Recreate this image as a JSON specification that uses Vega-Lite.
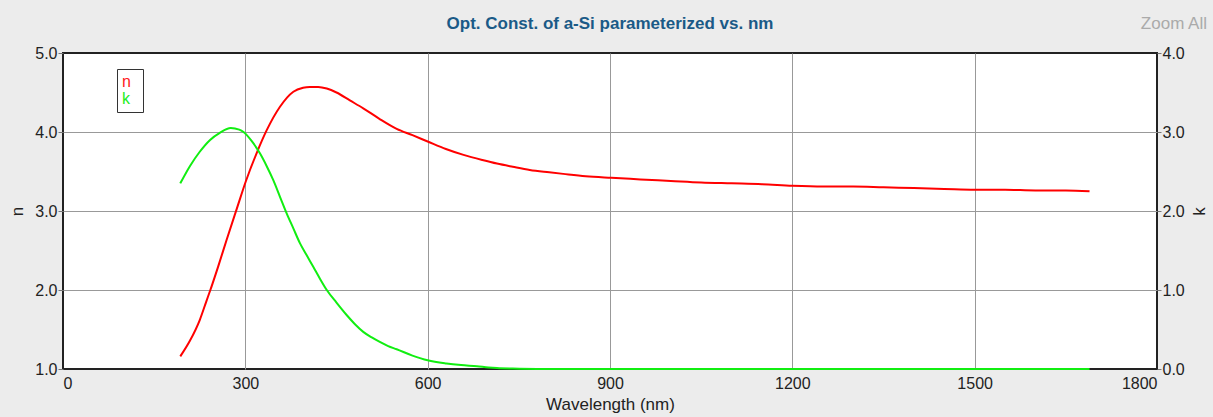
{
  "$schema": "https://vega.github.io/schema/vega-lite/v6.json",
  "width": 1094,
  "height": 316,
  "autosize": {"type": "none"},
  "padding": {"left": 63, "top": 53, "right": 56, "bottom": 48},
  "background": "#ECECEC",
  "title": {"text": "Opt. Const. of a-Si parameterized vs. nm", "font": "Liberation Sans", "fontSize": 17, "fontWeight": "bold", "color": "#1A5A87", "anchor": "middle", "frame": "group", "offset": 0, "baseline": "alphabetic", "dy": 31},
  "config": {
    "view": {"fill": "white", "stroke": "#222222", "strokeWidth": 2},
    "axis": {"labelFont": "Liberation Sans", "titleFont": "Liberation Sans", "labelFontSize": 16, "titleFontSize": 17, "titleFontWeight": "normal", "labelColor": "#222222", "titleColor": "#222222", "gridOpacity": 1, "gridWidth": 1, "tickColor": "#777777", "domain": false}
  },
  "datasets": {
    "nData": [
      {"series": "n", "wl": 193, "n": 1.16}, {"series": "n", "wl": 209, "n": 1.36}, {"series": "n", "wl": 225, "n": 1.62},
      {"series": "n", "wl": 236, "n": 1.86}, {"series": "n", "wl": 242, "n": 1.99}, {"series": "n", "wl": 255, "n": 2.29},
      {"series": "n", "wl": 269, "n": 2.63}, {"series": "n", "wl": 286, "n": 3.03}, {"series": "n", "wl": 301, "n": 3.38},
      {"series": "n", "wl": 319, "n": 3.74}, {"series": "n", "wl": 335, "n": 4.02}, {"series": "n", "wl": 357, "n": 4.32},
      {"series": "n", "wl": 379, "n": 4.51}, {"series": "n", "wl": 395, "n": 4.56}, {"series": "n", "wl": 406, "n": 4.57},
      {"series": "n", "wl": 420, "n": 4.57}, {"series": "n", "wl": 434, "n": 4.55}, {"series": "n", "wl": 450, "n": 4.5},
      {"series": "n", "wl": 472, "n": 4.4}, {"series": "n", "wl": 494, "n": 4.3}, {"series": "n", "wl": 520, "n": 4.17},
      {"series": "n", "wl": 549, "n": 4.04}, {"series": "n", "wl": 575, "n": 3.96}, {"series": "n", "wl": 600, "n": 3.88},
      {"series": "n", "wl": 630, "n": 3.785}, {"series": "n", "wl": 659, "n": 3.71}, {"series": "n", "wl": 690, "n": 3.645},
      {"series": "n", "wl": 714, "n": 3.6}, {"series": "n", "wl": 740, "n": 3.56}, {"series": "n", "wl": 768, "n": 3.52},
      {"series": "n", "wl": 800, "n": 3.49}, {"series": "n", "wl": 823, "n": 3.47}, {"series": "n", "wl": 860, "n": 3.44},
      {"series": "n", "wl": 902, "n": 3.42}, {"series": "n", "wl": 950, "n": 3.4}, {"series": "n", "wl": 1000, "n": 3.38},
      {"series": "n", "wl": 1050, "n": 3.36}, {"series": "n", "wl": 1100, "n": 3.35}, {"series": "n", "wl": 1150, "n": 3.34},
      {"series": "n", "wl": 1200, "n": 3.32}, {"series": "n", "wl": 1250, "n": 3.31}, {"series": "n", "wl": 1300, "n": 3.31},
      {"series": "n", "wl": 1350, "n": 3.3}, {"series": "n", "wl": 1400, "n": 3.29}, {"series": "n", "wl": 1450, "n": 3.28},
      {"series": "n", "wl": 1500, "n": 3.27}, {"series": "n", "wl": 1550, "n": 3.27}, {"series": "n", "wl": 1600, "n": 3.26},
      {"series": "n", "wl": 1650, "n": 3.26}, {"series": "n", "wl": 1689, "n": 3.25}
    ],
    "kData": [
      {"series": "k", "wl": 193, "k": 2.35}, {"series": "k", "wl": 209, "k": 2.57}, {"series": "k", "wl": 225, "k": 2.75},
      {"series": "k", "wl": 242, "k": 2.9}, {"series": "k", "wl": 258, "k": 2.99}, {"series": "k", "wl": 276, "k": 3.05},
      {"series": "k", "wl": 290, "k": 3.03}, {"series": "k", "wl": 297, "k": 3.0}, {"series": "k", "wl": 310, "k": 2.89},
      {"series": "k", "wl": 324, "k": 2.73}, {"series": "k", "wl": 335, "k": 2.57}, {"series": "k", "wl": 346, "k": 2.39},
      {"series": "k", "wl": 357, "k": 2.18}, {"series": "k", "wl": 368, "k": 1.97}, {"series": "k", "wl": 379, "k": 1.78},
      {"series": "k", "wl": 390, "k": 1.59}, {"series": "k", "wl": 401, "k": 1.44}, {"series": "k", "wl": 412, "k": 1.29},
      {"series": "k", "wl": 423, "k": 1.14}, {"series": "k", "wl": 434, "k": 1.0}, {"series": "k", "wl": 450, "k": 0.84},
      {"series": "k", "wl": 467, "k": 0.68}, {"series": "k", "wl": 480, "k": 0.57}, {"series": "k", "wl": 494, "k": 0.47},
      {"series": "k", "wl": 508, "k": 0.4}, {"series": "k", "wl": 522, "k": 0.34}, {"series": "k", "wl": 535, "k": 0.29},
      {"series": "k", "wl": 549, "k": 0.25}, {"series": "k", "wl": 575, "k": 0.17}, {"series": "k", "wl": 600, "k": 0.11},
      {"series": "k", "wl": 631, "k": 0.07}, {"series": "k", "wl": 655, "k": 0.05}, {"series": "k", "wl": 681, "k": 0.035},
      {"series": "k", "wl": 700, "k": 0.02}, {"series": "k", "wl": 714, "k": 0.012}, {"series": "k", "wl": 740, "k": 0.005},
      {"series": "k", "wl": 780, "k": 0.0}, {"series": "k", "wl": 900, "k": 0.0}, {"series": "k", "wl": 1200, "k": 0.0},
      {"series": "k", "wl": 1500, "k": 0.0}, {"series": "k", "wl": 1689, "k": 0.0}
    ]
  },
  "layer": [
    {
      "data": {"name": "nData"},
      "mark": {"type": "line", "strokeWidth": 2, "interpolate": "monotone"},
      "encoding": {
        "x": {"field": "wl", "type": "quantitative", "scale": {"domain": [0, 1800], "nice": false},
          "axis": {"title": "Wavelength (nm)", "values": [0, 300, 600, 900, 1200, 1500, 1800], "format": "d", "tickSize": 0, "labelPadding": 6, "titlePadding": 5, "grid": true,
            "gridColor": {"condition": {"test": "datum.value == 0 || datum.value == 1800", "value": "transparent"}, "value": "#999999"}}},
        "y": {"field": "n", "type": "quantitative", "scale": {"domain": [1, 5], "nice": false, "zero": false},
          "axis": {"title": "n", "orient": "left", "values": [1, 2, 3, 4, 5], "format": ".1f", "tickSize": 5, "labelPadding": 1, "titlePadding": 8, "grid": true,
            "gridColor": {"condition": {"test": "datum.value == 1 || datum.value == 5", "value": "transparent"}, "value": "#999999"}}},
        "color": {"field": "series", "type": "nominal", "scale": {"domain": ["n", "k"], "range": ["#FF0000", "#11EE11"]},
          "legend": {"title": null, "orient": "none", "legendX": 54, "legendY": 16, "fillColor": "white", "strokeColor": "#333333", "padding": 5, "rowPadding": 1,
            "symbolType": "circle", "symbolSize": 256, "symbolStrokeWidth": 0, "symbolOpacity": 0, "symbolFillColor": "transparent", "labelOffset": -16, "labelFont": "Liberation Sans", "labelFontSize": 16,
            "encode": {"labels": {"update": {"fill": [{"test": "datum.value === 'n'", "value": "#FF2020"}, {"value": "#22EE22"}]}}, "symbols": {"update": {"opacity": {"value": 0}}}}}}
      }
    },
    {
      "data": {"name": "kData"},
      "mark": {"type": "line", "strokeWidth": 2, "interpolate": "monotone"},
      "encoding": {
        "x": {"field": "wl", "type": "quantitative", "scale": {"domain": [0, 1800], "nice": false},
          "axis": {"title": "Wavelength (nm)", "values": [0, 300, 600, 900, 1200, 1500, 1800], "format": "d", "tickSize": 0, "labelPadding": 6, "titlePadding": 5, "grid": true,
            "gridColor": {"condition": {"test": "datum.value == 0 || datum.value == 1800", "value": "transparent"}, "value": "#999999"}}},
        "y": {"field": "k", "type": "quantitative", "scale": {"domain": [0, 4], "nice": false},
          "axis": {"title": "k", "orient": "right", "titleAngle": 270, "titleBaseline": "top", "values": [0, 1, 2, 3, 4], "format": ".1f", "tickSize": 4, "labelPadding": 1, "titlePadding": 7, "grid": false}},
        "color": {"field": "series", "type": "nominal", "scale": {"domain": ["n", "k"], "range": ["#FF0000", "#11EE11"]}}
      }
    },
    {
      "data": {"values": [{"label": "Zoom All"}]},
      "mark": {"type": "text", "align": "right", "baseline": "middle", "dx": 50, "dy": -29, "font": "Liberation Sans", "fontSize": 17, "color": "#AAAAAA"},
      "encoding": {
        "x": {"datum": 1800, "type": "quantitative"},
        "y": {"datum": 5, "type": "quantitative", "scale": {"domain": [1, 5], "nice": false, "zero": false}, "axis": null},
        "text": {"field": "label"}
      }
    }
  ],
  "resolve": {"scale": {"y": "independent"}}
}
